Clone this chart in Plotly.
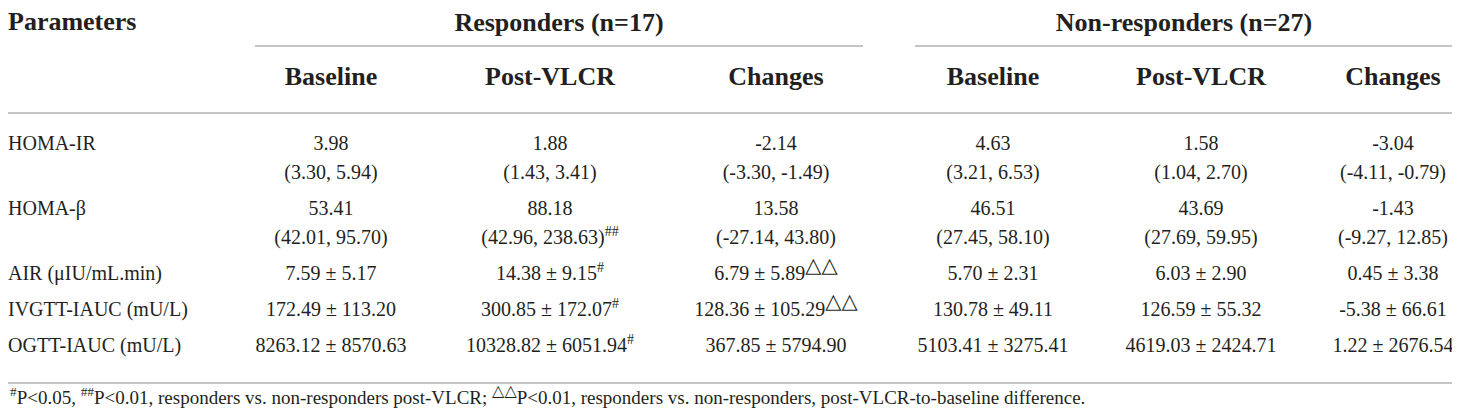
import plotly.graph_objects as go

# Table content
parameters = ["HOMA-IR", "HOMA-β", "AIR (μIU/mL.min)", "IVGTT-IAUC (mU/L)", "OGTT-IAUC (mU/L)"]
groups = ["Responders (n=17)", "Non-responders (n=27)"]
sub_headers = ["Baseline", "Post-VLCR", "Changes", "Baseline", "Post-VLCR", "Changes"]

resp_baseline = [["3.98", "(3.30, 5.94)"], ["53.41", "(42.01, 95.70)"], ["7.59 ± 5.17"],
                 ["172.49 ± 113.20"], ["8263.12 ± 8570.63"]]
resp_post = [["1.88", "(1.43, 3.41)"], ["88.18", "(42.96, 238.63)"], ["14.38 ± 9.15"],
             ["300.85 ± 172.07"], ["10328.82 ± 6051.94"]]
resp_changes = [["-2.14", "(-3.30, -1.49)"], ["13.58", "(-27.14, 43.80)"], ["6.79 ± 5.89"],
                ["128.36 ± 105.29"], ["367.85 ± 5794.90"]]
nonresp_baseline = [["4.63", "(3.21, 6.53)"], ["46.51", "(27.45, 58.10)"], ["5.70 ± 2.31"],
                    ["130.78 ± 49.11"], ["5103.41 ± 3275.41"]]
nonresp_post = [["1.58", "(1.04, 2.70)"], ["43.69", "(27.69, 59.95)"], ["6.03 ± 2.90"],
                ["126.59 ± 55.32"], ["4619.03 ± 2424.71"]]
nonresp_changes = [["-3.04", "(-4.11, -0.79)"], ["-1.43", "(-9.27, 12.85)"], ["0.45 ± 3.38"],
                   ["-5.38 ± 66.61"], ["1.22 ± 2676.54"]]

# significance marks, put on the last line of the cell
resp_post_marks = ["", "##", "#", "#", "#"]
resp_changes_marks = ["", "", "△△", "△△", ""]
no_marks = ["", "", "", "", ""]

# layout settings (pixel-like axis units)
W, H = 1460, 411
FONT = "Liberation Serif"
INK = "#231f20"
RULE = "#c4c4c4"
col_x = [323, 542, 768, 985, 1193, 1385]
group_x = [551, 1176]
first_row_y = 137
line_step = 29
row_step = 36


def mark_html(mark, size):
    # the open triangles are drawn bigger than the hash signs
    if "△" in mark:
        return ("<sup><span style='font-size:%dpx;font-family:DejaVu Sans'>%s</span></sup>"
                % (size, mark))
    return "<sup>" + mark + "</sup>"


footnote = (mark_html("#", 0) + "P&lt;0.05, " + mark_html("##", 0)
            + "P&lt;0.01, responders vs. non-responders post-VLCR; " + mark_html("△△", 16)
            + "P&lt;0.01, responders vs. non-responders, post-VLCR-to-baseline difference.")

fig = go.Figure()


def add_text(x, y, text, size, bold=False, pos="middle center"):
    fig.add_trace(go.Scatter(
        x=x, y=y, text=text, mode="text", textposition=pos, hoverinfo="skip",
        marker=dict(size=0),
        textfont=dict(family=FONT, size=size, color=INK, weight="bold" if bold else "normal"),
        showlegend=False,
    ))


# row positions
row_lines = []
y = first_row_y
for cell in resp_baseline:
    ys = [y + k * line_step for k in range(len(cell))]
    row_lines.append(ys)
    y = ys[-1] + row_step

# headers
add_text([0], [15], ["Parameters"], 26, bold=True, pos="middle right")
add_text(group_x, [16, 16], groups, 26, bold=True)
add_text(col_x, [70] * 6, sub_headers, 26, bold=True)

# parameter names
add_text([0] * len(parameters), [ys[0] for ys in row_lines], parameters, 20, pos="middle right")

# value columns
columns = [
    (resp_baseline, no_marks), (resp_post, resp_post_marks), (resp_changes, resp_changes_marks),
    (nonresp_baseline, no_marks), (nonresp_post, no_marks), (nonresp_changes, no_marks),
]
for cx, (values, marks) in zip(col_x, columns):
    xs, ys_all, texts = [], [], []
    for cell, mark, ys in zip(values, marks, row_lines):
        for k, (line, ly) in enumerate(zip(cell, ys)):
            if k == len(cell) - 1 and mark:
                line = line + mark_html(mark, 21)
            xs.append(cx)
            ys_all.append(ly)
            texts.append(line)
    add_text(xs, ys_all, texts, 20)

# rules
for x0, x1, yy in [(247, 855, 38), (907, W, 38), (0, W, 105), (0, W, 375)]:
    fig.add_shape(type="line", x0=x0, x1=x1, y0=yy, y1=yy, line=dict(color=RULE, width=2))

fig.add_annotation(x=0, y=386, text=footnote, showarrow=False, xanchor="left", yanchor="middle",
                   font=dict(family=FONT, size=19, color=INK))

fig.update_layout(
    width=W, height=H, margin=dict(l=0, r=0, t=0, b=0),
    paper_bgcolor="white", plot_bgcolor="white",
    xaxis=dict(range=[0, W], visible=False, fixedrange=True),
    yaxis=dict(range=[H, 0], visible=False, fixedrange=True),
)

fig.write_html("out.html")
